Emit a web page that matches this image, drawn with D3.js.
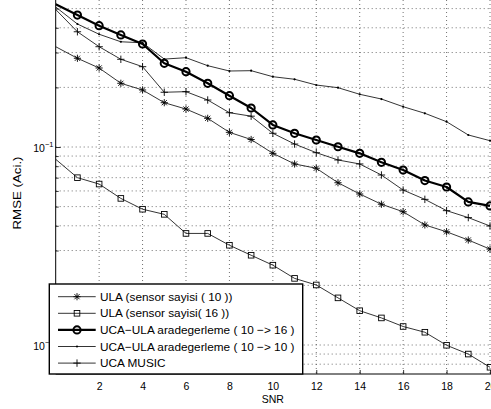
<!DOCTYPE html>
<html>
<head>
<meta charset="utf-8">
<script src="https://cdn.jsdelivr.net/npm/d3@7"></script>
<style>
  html, body { margin: 0; padding: 0; background: #fff; }
  svg { display: block; font-family: "Liberation Sans", Arial, Helvetica, sans-serif; }
</style>
</head>
<body>
<svg id="chart" width="491" height="409"></svg>
<script>
// ---------------- data ----------------
const snr = [0,1,2,3,4,5,6,7,8,9,10,11,12,13,14,15,16,17,18,19,20];

const ula10 = [0.321,0.2806,0.2506,0.2098,0.1941,0.1674,0.1555,0.1396,0.1186,0.1091,0.0929,
               0.0821,0.0781,0.0660,0.0579,0.0514,0.0471,0.0404,0.0373,0.0339,0.0305];
const ula16 = [0.0867,0.0700,0.0650,0.0550,0.0485,0.0457,0.0366,0.0366,0.0319,0.0284,0.0253,
               0.0217,0.0201,0.0173,0.0149,0.0137,0.0124,0.0116,0.00997,0.0090,0.00772];
const ucaUla16 = [0.5256,0.464,0.410,0.368,0.3313,0.2647,0.2401,0.2098,0.1816,0.1574,0.1292,
                  0.1173,0.1085,0.1003,0.0929,0.0837,0.0765,0.0677,0.0628,0.0528,0.0504];
const ucaUla10 = [0.5094,0.418,0.371,0.340,0.336,0.278,0.2825,0.2574,0.2420,0.2429,0.2265,
                  0.2198,0.2056,0.1993,0.1846,0.1747,0.1598,0.1480,0.1342,0.1150,0.1076];
const ucaMusic = [0.4948,0.382,0.321,0.2773,0.2545,0.1890,0.1903,0.1727,0.1490,0.1431,0.1173,
                  0.1035,0.0936,0.0860,0.0821,0.0722,0.0606,0.0544,0.0477,0.0440,0.0399];

const seriesNames = [
  "ULA (sensor sayisi ( 10 ))",
  "ULA (sensor sayisi( 16 ))",
  "UCA\u2212ULA aradegerleme ( 10 \u2212> 16 )",
  "UCA\u2212ULA aradegerleme ( 10 \u2212> 10 )",
  "UCA MUSIC"
];
const seriesValues = [ula10, ula16, ucaUla16, ucaUla10, ucaMusic];
const seriesMarkers = ["asterisk", "square", "circle", "dot", "plus"];

const xTicks = [2,4,6,8,10,12,14,16,18,20];
const yMajorTicks = [0.1, 0.01];
const yMajorExponents = ["\u22121", "\u22122"];
const yMinorTicks = [0.5,0.4,0.3,0.2,0.09,0.08,0.07,0.06,0.05,0.04,0.03,0.02,0.009,0.008];
const xLabel = "SNR";
const yLabel = "RMSE (Aci.)";

// ---------------- layout ----------------
const svg = d3.select("#chart");
const plotLeft = 55.7, plotRight = 490, plotTop = 0, plotBottom = 374;

const x = d3.scaleLinear().domain([0, 20]).range([plotLeft, plotRight]);
const y = d3.scaleLog().domain([0.01, 0.1]).range([345, 147]);

svg.append("defs").append("clipPath").attr("id", "plotclip")
  .append("rect").attr("x", plotLeft).attr("y", plotTop).attr("width", 600).attr("height", plotBottom - plotTop);

// grid
const grid = svg.append("g").attr("stroke", "#333").attr("stroke-width", 0.7)
  .attr("stroke-dasharray", "1,3").attr("fill", "none");
grid.selectAll("line.v").data(xTicks).join("line").attr("class", "v")
  .attr("x1", d => x(d)).attr("x2", d => x(d)).attr("y1", plotTop).attr("y2", plotBottom);
grid.selectAll("line.h").data(yMajorTicks.concat(yMinorTicks)).join("line").attr("class", "h")
  .attr("x1", plotLeft).attr("x2", plotRight + 2).attr("y1", d => y(d)).attr("y2", d => y(d));

// axes (inward ticks)
const xAxis = d3.axisBottom(x).tickValues(xTicks).tickSize(-4).tickPadding(8.5).tickFormat(d3.format("d"));
const gx = svg.append("g").attr("transform", `translate(0,${plotBottom})`).call(xAxis);
gx.select(".domain").remove();
gx.selectAll("line").attr("stroke", "#000").attr("stroke-width", 0.8);
gx.selectAll("text").attr("font-size", "10.5px").attr("fill", "#000")
  .attr("font-family", "Liberation Sans, Arial, sans-serif");

const yAxisMajor = d3.axisLeft(y).tickValues(yMajorTicks).tickSize(-5).tickFormat("");
const gy = svg.append("g").attr("transform", `translate(${plotLeft},0)`).call(yAxisMajor);
gy.select(".domain").remove();
gy.selectAll("line").attr("stroke", "#000").attr("stroke-width", 0.8);
const yAxisMinor = d3.axisLeft(y).tickValues(yMinorTicks).tickSize(-3).tickFormat("");
const gym = svg.append("g").attr("transform", `translate(${plotLeft},0)`).call(yAxisMinor);
gym.select(".domain").remove();
gym.selectAll("line").attr("stroke", "#000").attr("stroke-width", 0.8);

// y tick labels with superscript
yMajorTicks.forEach((v, i) => {
  const t = svg.append("text").attr("text-anchor", "end").attr("x", 53.5).attr("y", y(v) + 5)
    .attr("font-size", "10.5px").attr("fill", "#000");
  t.append("tspan").text("10");
  t.append("tspan").attr("dy", -5).attr("font-size", "7.5px").text(yMajorExponents[i]);
});

// axis lines
svg.append("line").attr("x1", plotLeft).attr("x2", plotLeft).attr("y1", plotTop).attr("y2", plotBottom)
  .attr("stroke", "#000").attr("stroke-width", 1);
svg.append("line").attr("x1", plotLeft).attr("x2", 491).attr("y1", plotBottom).attr("y2", plotBottom)
  .attr("stroke", "#000").attr("stroke-width", 1);

// axis labels
svg.append("text").attr("x", x(10)).attr("y", 403.3).attr("text-anchor", "middle")
  .attr("font-size", "10.5px").attr("fill", "#000").text(xLabel);
svg.append("text").attr("transform", "translate(21,193) rotate(-90)").attr("text-anchor", "middle")
  .attr("font-size", "10.7px").attr("fill", "#000")
  .attr("textLength", 73).attr("lengthAdjust", "spacingAndGlyphs").text(yLabel);

// marker drawing
function drawMarker(g, type, cx, cy) {
  if (type === "asterisk") {
    const r = 3.6, d = r * 0.72;
    g.append("path").attr("d",
      `M${cx - r},${cy}L${cx + r},${cy}M${cx},${cy - r}L${cx},${cy + r}` +
      `M${cx - d},${cy - d}L${cx + d},${cy + d}M${cx - d},${cy + d}L${cx + d},${cy - d}`)
      .attr("stroke", "#000").attr("stroke-width", 0.9).attr("fill", "none");
  } else if (type === "square") {
    const s = 5.6;
    g.append("rect").attr("x", cx - s / 2).attr("y", cy - s / 2).attr("width", s).attr("height", s)
      .attr("stroke", "#000").attr("stroke-width", 0.9).attr("fill", "none");
  } else if (type === "circle") {
    g.append("circle").attr("cx", cx).attr("cy", cy).attr("r", 3.6)
      .attr("stroke", "#000").attr("stroke-width", 2).attr("fill", "none");
  } else if (type === "dot") {
    g.append("circle").attr("cx", cx).attr("cy", cy).attr("r", 1.1).attr("fill", "#000");
  } else if (type === "plus") {
    const r = 3.7;
    g.append("path").attr("d", `M${cx - r},${cy}L${cx + r},${cy}M${cx},${cy - r}L${cx},${cy + r}`)
      .attr("stroke", "#000").attr("stroke-width", 0.9).attr("fill", "none");
  }
}

// series
const plot = svg.append("g").attr("clip-path", "url(#plotclip)");
const line = d3.line().x(d => x(d[0])).y(d => y(d[1]));
seriesValues.forEach((vals, i) => {
  const pts = snr.map((s, j) => [s, vals[j]]);
  const thick = seriesMarkers[i] === "circle";
  plot.append("path").datum(pts).attr("d", line).attr("fill", "none")
    .attr("stroke", "#000").attr("stroke-width", thick ? 2.2 : 0.8).attr("stroke-linejoin", "round");
  const mg = plot.append("g");
  pts.forEach(p => { if (p[0] > x.domain()[0]) drawMarker(mg, seriesMarkers[i], x(p[0]), y(p[1])); });
});

// legend
const lg = svg.append("g");
lg.append("rect").attr("x", 49.3).attr("y", 284).attr("width", 253.4).attr("height", 90)
  .attr("fill", "#fff").attr("stroke", "#000").attr("stroke-width", 1.4);
seriesNames.forEach((name, i) => {
  const cy = 296.7 + i * 16.6;
  const thick = seriesMarkers[i] === "circle";
  lg.append("line").attr("x1", 58).attr("x2", 95.7).attr("y1", cy).attr("y2", cy)
    .attr("stroke", "#000").attr("stroke-width", thick ? 2.2 : 0.8);
  drawMarker(lg, seriesMarkers[i], 77, cy);
  lg.append("text").attr("x", 100).attr("y", cy + 4).attr("font-size", "11.8px").attr("fill", "#000").text(name);
});
</script>
</body>
</html>
